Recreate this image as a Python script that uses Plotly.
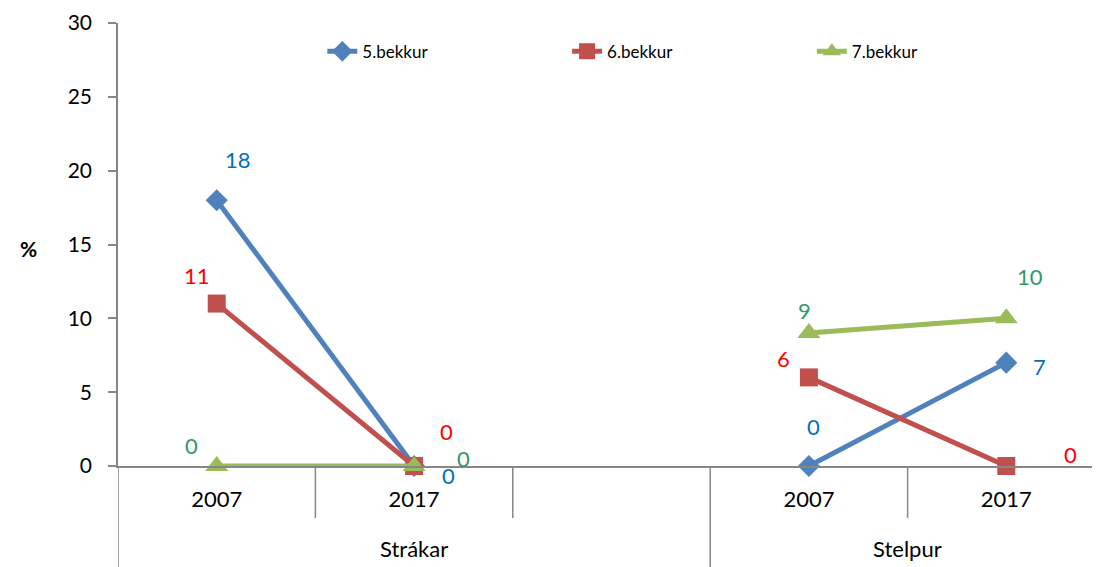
import plotly.graph_objects as go

# Data
categories = [0, 1, 2, 3, 4]
year_labels = ["2007", "2017", "", "2007", "2017"]
groups = ["Strákar", "Stelpur"]
group_centers = [1.0, 3.5]
series_names = ["5.bekkur", "6.bekkur", "7.bekkur"]
bekkur5 = [18, 0, None, 0, 7]
bekkur6 = [11, 0, None, 6, 0]
bekkur7 = [0, 0, None, 9, 10]

line_colors = ["#4F81BD", "#C0504D", "#9BBB59"]
label_colors = ["#0070C0", "#FF0000", "#339966"]
symbols = ["diamond", "square", "triangle-up"]
marker_sizes = [17, 18, 20]
legend_ids = ["legend", "legend2", "legend3"]
legend_x = [0.207, 0.455, 0.703]

# label pixel offsets (dx, dy) per series per point
offsets = [
    [(21, -41), (34, 9), None, (5, -40), (33, 4)],
    [(-20, -28), (32, -35), None, (-25, -19), (64, -12)],
    [(-25, -21), (49, -8), None, (-4, -23), (24, -42)],
]

FONT = "Lato"
fig = go.Figure()
for name, vals, lc, sym, ms, lg in zip(series_names, [bekkur5, bekkur6, bekkur7],
                                       line_colors, symbols, marker_sizes, legend_ids):
    fig.add_trace(go.Scatter(
        x=categories, y=vals, name=name, mode="lines+markers",
        line=dict(color=lc, width=5),
        marker=dict(symbol=sym, size=ms, color=lc),
        connectgaps=False, cliponaxis=False, legend=lg,
    ))

annotations = []
for si, vals in enumerate([bekkur5, bekkur6, bekkur7]):
    for xi, v in zip(categories, vals):
        off = offsets[si][xi]
        if v is None or off is None:
            continue
        annotations.append(dict(
            x=xi, y=v, xref="x", yref="y", text=str(v), showarrow=False,
            xshift=off[0], yshift=-off[1],
            font=dict(family=FONT, size=22, color=label_colors[si]),
        ))

for g, c in zip(groups, group_centers):
    annotations.append(dict(
        x=c, y=-0.186, xref="x", yref="paper", text=g, showarrow=False,
        yanchor="middle", font=dict(family=FONT, size=22, color="black"),
    ))

annotations.append(dict(
    x=-0.101, y=0.49, xref="paper", yref="paper", text="<b>%</b>", showarrow=False,
    font=dict(family=FONT, size=21, color="black"),
))

axis_grey = "#868686"
shapes = []
short_y = -(515 - 463) / 443
long_y = -(570 - 463) / 443
for b, is_long in [(-0.5, True), (0.5, False), (1.5, False), (2.5, True), (3.5, False)]:
    shapes.append(dict(
        type="line", xref="x", yref="paper", x0=b, x1=b, y0=0,
        y1=long_y if is_long else short_y,
        line=dict(color=axis_grey, width=1.5),
    ))

legend_common = dict(
    orientation="h", y=0.935, xanchor="left", yanchor="middle",
    font=dict(family=FONT, size=17, color="black"),
    bgcolor="rgba(0,0,0,0)",
)

fig.update_layout(
    width=1100, height=567,
    margin=dict(l=110, r=3, t=15, b=109, autoexpand=False),
    paper_bgcolor="white", plot_bgcolor="white",
    font=dict(family=FONT, color="black"),
    showlegend=True,
    legend=dict(x=legend_x[0], **legend_common),
    legend2=dict(x=legend_x[1], **legend_common),
    legend3=dict(x=legend_x[2], **legend_common),
    xaxis=dict(
        range=[-0.5, 4.5], automargin=False,
        tickmode="array", tickvals=categories, ticktext=year_labels,
        showline=True, linecolor=axis_grey, linewidth=1.5,
        ticks="", showgrid=False, zeroline=False,
        tickfont=dict(family=FONT, size=22, color="black"),
        ticklabelstandoff=13,
    ),
    yaxis=dict(
        range=[0, 30], tickmode="linear", tick0=0, dtick=5, automargin=False,
        showline=True, linecolor=axis_grey, linewidth=1.5,
        ticks="outside", ticklen=8, tickcolor=axis_grey, tickwidth=1.5,
        showgrid=False, zeroline=False,
        tickfont=dict(family=FONT, size=21, color="black"),
        ticklabelstandoff=12, ticklabeloverflow="allow",
    ),
    annotations=annotations,
    shapes=shapes,
)

fig.write_html("out.html")
